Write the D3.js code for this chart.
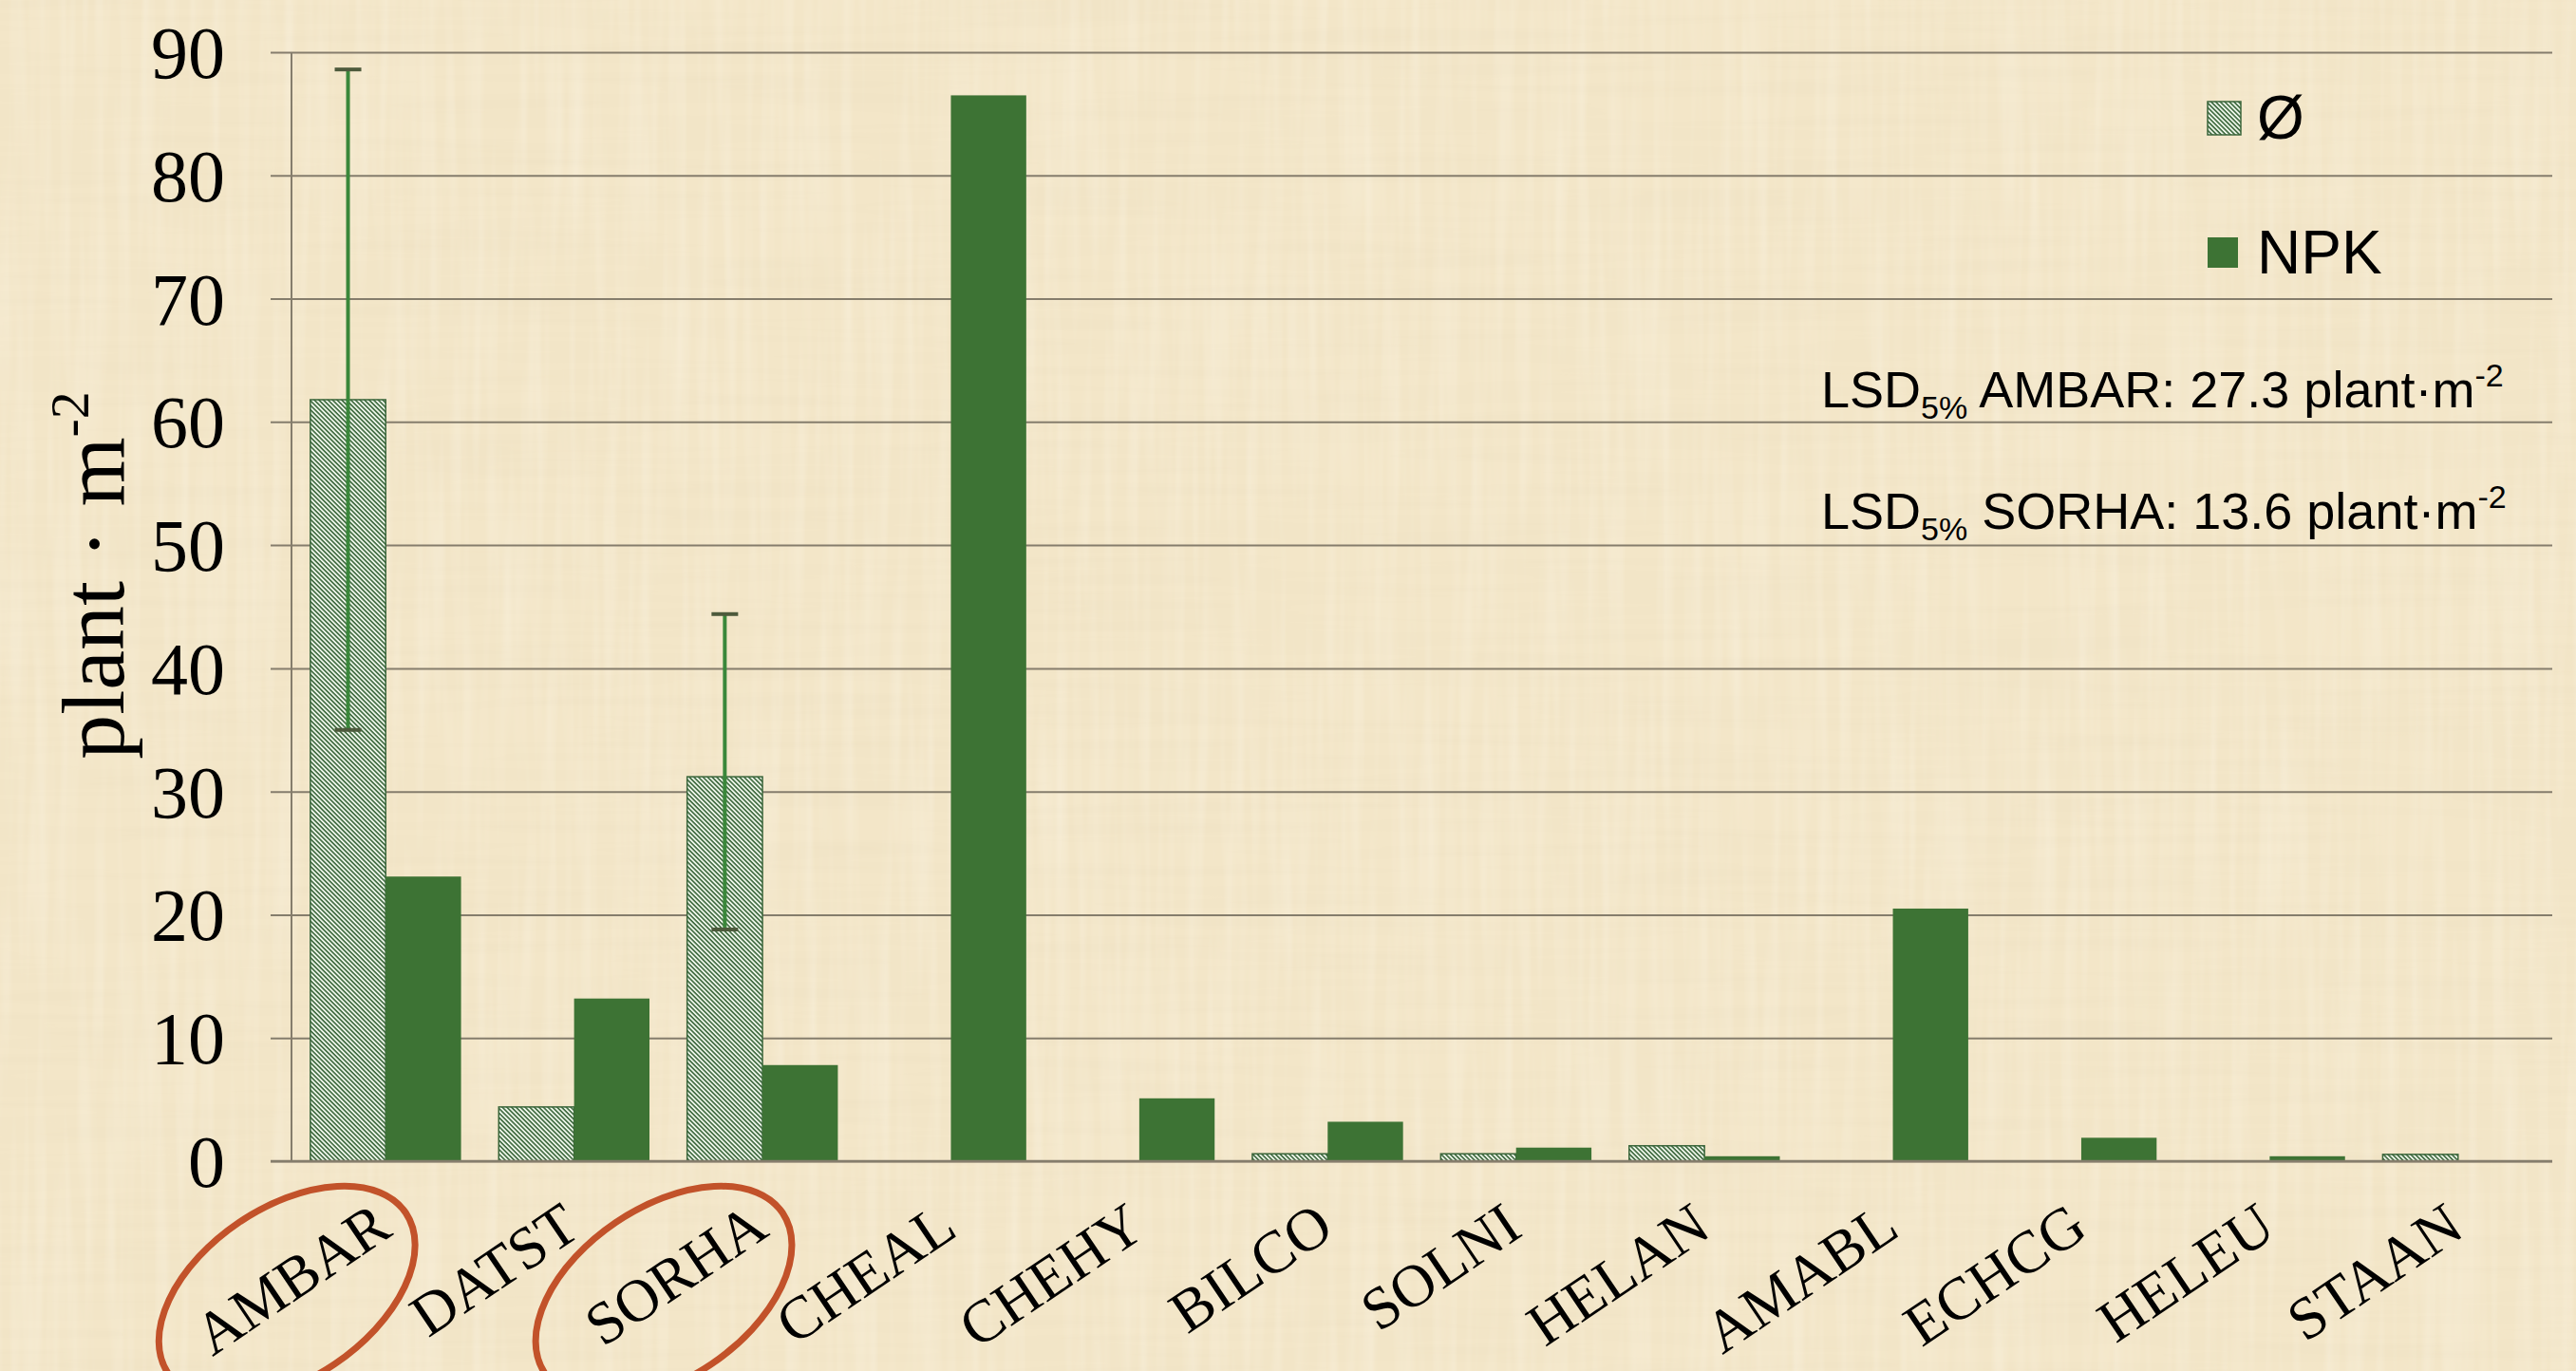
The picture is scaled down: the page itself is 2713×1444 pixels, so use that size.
<!DOCTYPE html>
<html>
<head>
<meta charset="utf-8">
<script src="https://cdn.jsdelivr.net/npm/d3@7"></script>
<style>
  body { margin: 0; background: #f3e6c9; }
  svg { display: block; }
</style>
</head>
<body>
<div id="chart"></div>
<script>
// weed species (EPPO codes)
const categories = ["AMBAR", "DATST", "SORHA", "CHEAL", "CHEHY", "BILCO", "SOLNI", "HELAN", "AMABL", "ECHCG", "HELEU", "STAAN"];
const seriesNames = ["Ø", "NPK"];
const controlValues = [61.8, 4.4, 31.2, 0, 0, 0.6, 0.6, 1.25, 0, 0, 0, 0.55];
const npkValues = [23.1, 13.2, 7.8, 86.5, 5.1, 3.2, 1.1, 0.4, 20.5, 1.9, 0.4, 0];
const yTicks = [0, 10, 20, 30, 40, 50, 60, 70, 80, 90];

// error bars on the control series
const errCategories = ["AMBAR", "SORHA"];
const errLow = [35.0, 18.8];
const errHigh = [88.6, 44.4];

// circled species and their LSD
const circled = ["AMBAR", "SORHA"];
const lsdValues = ["27.3", "13.6"];

let svgWidth = 2713, svgHeight = 1444;
let plot = {left: 307, right: 2688, top: 55, bottom: 1223, gridLeft: 285};

let x = d3.scaleBand()
    .domain(categories)
    .range([plot.left, plot.right])
    .paddingInner(0.2)
    .paddingOuter(0.1);

let xs = d3.scaleBand()
    .domain(seriesNames)
    .range([0, x.bandwidth()]);

let y = d3.scaleLinear()
    .domain([0, 90])
    .range([plot.bottom, plot.top]);

let svg = d3.select("#chart").append("svg")
    .attr("width", svgWidth)
    .attr("height", svgHeight);

let defs = svg.append("defs");

// parchment-like texture
let paper = defs.append("filter").attr("id", "paper")
    .attr("x", 0).attr("y", 0).attr("width", "100%").attr("height", "100%");
paper.append("feTurbulence")
    .attr("type", "fractalNoise")
    .attr("baseFrequency", "0.003 0.09")
    .attr("numOctaves", 2)
    .attr("seed", 4);
paper.append("feColorMatrix")
    .attr("type", "matrix")
    .attr("values", "0 0 0 0 0.80  0 0 0 0 0.70  0 0 0 0 0.50  0.45 0 0 0 -0.17");

let paper2 = defs.append("filter").attr("id", "paper2")
    .attr("x", 0).attr("y", 0).attr("width", "100%").attr("height", "100%");
paper2.append("feTurbulence")
    .attr("type", "fractalNoise")
    .attr("baseFrequency", "0.08 0.004")
    .attr("numOctaves", 2)
    .attr("seed", 9);
paper2.append("feColorMatrix")
    .attr("type", "matrix")
    .attr("values", "0 0 0 0 1  0 0 0 0 0.98  0 0 0 0 0.92  0.5 0 0 0 -0.2");

// diagonal hatch for the control series
let hatch = defs.append("pattern")
    .attr("id", "hatch")
    .attr("patternUnits", "userSpaceOnUse")
    .attr("width", 3.4)
    .attr("height", 3.4)
    .attr("patternTransform", "rotate(-45)");
hatch.append("rect")
    .attr("width", 3.4).attr("height", 3.4)
    .attr("fill", "#eef7ea");
hatch.append("line")
    .attr("x1", 0.9).attr("y1", 0).attr("x2", 0.9).attr("y2", 3.4)
    .attr("stroke", "#3b663b")
    .attr("stroke-width", 1.6);

svg.append("rect")
    .attr("width", svgWidth).attr("height", svgHeight)
    .attr("fill", "#f3e6c8");
svg.append("rect")
    .attr("width", svgWidth).attr("height", svgHeight)
    .attr("filter", "url(#paper)");
svg.append("rect")
    .attr("width", svgWidth).attr("height", svgHeight)
    .attr("filter", "url(#paper2)");

// gridlines + y labels
let yAxis = d3.axisLeft(y)
    .tickValues(yTicks)
    .tickSizeInner(-(plot.right - plot.gridLeft))
    .tickSizeOuter(0)
    .tickPadding(48);

svg.append("g")
    .attr("class", "y-axis")
    .attr("transform", "translate(" + plot.gridLeft + ",0)")
    .call(yAxis)
    .call(g => g.select(".domain").remove())
    .call(g => g.selectAll(".tick line")
        .attr("stroke", "#857d6c")
        .attr("stroke-width", 2))
    .call(g => g.selectAll(".tick text")
        .attr("font-family", "'Liberation Serif', 'Times New Roman', serif")
        .attr("font-size", 78)
        .attr("fill", "#000")
        .attr("dy", "0.34em"));

// vertical axis line
svg.append("line")
    .attr("x1", plot.left).attr("x2", plot.left)
    .attr("y1", y(90)).attr("y2", y(0))
    .attr("stroke", "#857d6c")
    .attr("stroke-width", 2);

// y axis title
let yTitle = svg.append("text")
    .attr("transform", "translate(130,606) rotate(-90)")
    .attr("text-anchor", "middle")
    .attr("font-family", "'Liberation Serif', 'Times New Roman', serif")
    .attr("font-size", 94)
    .attr("fill", "#000");
yTitle.append("tspan").text("plant · m");
yTitle.append("tspan").attr("font-size", 58).attr("dy", -37).text("-2");

// bars
let rows = categories.map((c, i) => ({cat: c, values: [controlValues[i], npkValues[i]]}));

let groups = svg.selectAll(".group")
    .data(rows)
    .enter()
    .append("g")
    .attr("class", "group")
    .attr("transform", d => "translate(" + x(d.cat) + ",0)");

groups.selectAll("rect")
    .data(d => d.values.map((v, j) => ({series: seriesNames[j], value: v})).filter(e => e.value > 0))
    .enter()
    .append("rect")
    .attr("x", d => xs(d.series))
    .attr("y", d => y(d.value))
    .attr("width", xs.bandwidth())
    .attr("height", d => y(0) - y(d.value))
    .attr("fill", d => d.series === "NPK" ? "#3d7334" : "url(#hatch)")
    .attr("stroke", d => d.series === "NPK" ? "none" : "#3b663b")
    .attr("stroke-width", 1.5);

// x axis line on top of bars
svg.append("line")
    .attr("x1", plot.gridLeft).attr("x2", plot.right)
    .attr("y1", y(0)).attr("y2", y(0))
    .attr("stroke", "#857d6c")
    .attr("stroke-width", 2.5);

// error bars
errCategories.forEach(function(c, i) {
    let cx = x(c) + xs("Ø") + xs.bandwidth() / 2;
    svg.append("line")
        .attr("x1", cx).attr("x2", cx)
        .attr("y1", y(errLow[i])).attr("y2", y(errHigh[i]))
        .attr("stroke", "#3a873a")
        .attr("stroke-width", 4);
    [errLow[i], errHigh[i]].forEach(function(v) {
        svg.append("line")
            .attr("x1", cx - 14).attr("x2", cx + 14)
            .attr("y1", y(v)).attr("y2", y(v))
            .attr("stroke", "#4d5a3c")
            .attr("stroke-width", 4);
    });
});

// x labels
const labelAngle = -34;
svg.selectAll(".x-label")
    .data(categories)
    .enter()
    .append("text")
    .attr("class", "x-label")
    .attr("transform", d => "translate(" + (x(d) + x.bandwidth() / 2 + 9) + ",1300) rotate(" + labelAngle + ")")
    .attr("text-anchor", "end")
    .attr("font-family", "'Liberation Serif', 'Times New Roman', serif")
    .attr("font-size", 63)
    .attr("fill", "#000")
    .text(d => d);

// red ellipses round the two key species
svg.selectAll(".ring")
    .data(circled)
    .enter()
    .append("ellipse")
    .attr("class", "ring")
    .attr("transform", d => "translate(" + (x(d) + x.bandwidth() / 2 - 104) + ",1362) rotate(" + labelAngle + ")")
    .attr("rx", 151)
    .attr("ry", 90)
    .attr("fill", "none")
    .attr("stroke", "#c2522a")
    .attr("stroke-width", 7);

// legend
let legend = svg.selectAll(".legend")
    .data(seriesNames)
    .enter()
    .append("g")
    .attr("class", "legend")
    .attr("transform", (d, i) => "translate(2325," + (124 + i * 142) + ")");

legend.append("rect")
    .attr("x", 0)
    .attr("y", d => d === "NPK" ? -16 : -17)
    .attr("width", d => d === "NPK" ? 32 : 35)
    .attr("height", d => d === "NPK" ? 32 : 35)
    .attr("fill", d => d === "NPK" ? "#3d7334" : "url(#hatch)")
    .attr("stroke", d => d === "NPK" ? "none" : "#3b663b")
    .attr("stroke-width", 1.5);

legend.append("text")
    .attr("x", 52)
    .attr("y", 22)
    .attr("font-family", "'Liberation Sans', Arial, sans-serif")
    .attr("font-size", 64)
    .attr("fill", "#000")
    .text(d => d);

// LSD notes
circled.forEach(function(c, i) {
    let t = svg.append("text")
        .attr("x", 1918)
        .attr("y", 429 + i * 128)
        .attr("font-family", "'Liberation Sans', Arial, sans-serif")
        .attr("font-size", 54)
        .attr("fill", "#000");
    t.append("tspan").text("LSD");
    t.append("tspan").attr("font-size", 34).attr("dy", 12).text("5%");
    t.append("tspan").attr("dy", -12).text(" " + c + ": " + lsdValues[i] + " plant·m");
    t.append("tspan").attr("font-size", 34).attr("dy", -22).text("-2");
});
</script>
</body>
</html>
